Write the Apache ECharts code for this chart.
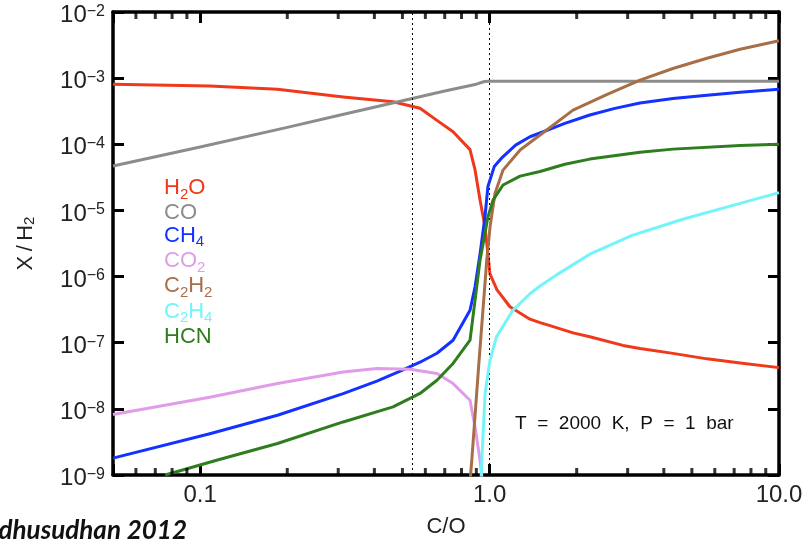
<!DOCTYPE html>
<html>
<head>
<meta charset="utf-8">
<script src="https://cdn.jsdelivr.net/npm/echarts@6/dist/echarts.min.js"></script>
<style>
html,body{margin:0;padding:0;background:#ffffff;}
#chart{width:805px;height:549px;}
</style>
</head>
<body>
<div id="chart"></div>
<script>
// ---- axis ranges and ticks ----
const X_MIN = 0.05, X_MAX = 10;
const Y_MIN = 1e-9, Y_MAX = 1e-2;
const xMinorTicks = [0.06, 0.07, 0.08, 0.09, 0.2, 0.3, 0.4, 0.5, 0.6, 0.7, 0.8, 0.9, 2, 3, 4, 5, 6, 7, 8, 9];
const xTickLabels = ['0.1', '1.0', '10.0'];
const refLinesX = [0.54, 1.0];

// ---- species (legend) ----
const speciesNames = ['H2O', 'CO', 'CH4', 'CO2', 'C2H2', 'C2H4', 'HCN'];
const speciesColors = ['#f0381a', '#8c8c8c', '#1432ff', '#e09ce8', '#a86e48', '#72f4fa', '#2e7d1e'];

// ---- series values: [C/O, X/H2] ----
const h2o = [[0.05, 8.1e-4], [0.108, 7.6e-4], [0.185, 6.8e-4], [0.312, 5.2e-4], [0.464, 4.4e-4], [0.575, 3.5e-4],
  [0.658, 2.3e-4], [0.748, 1.55e-4], [0.856, 8.3e-5], [0.891, 4.1e-5], [0.927, 1.44e-5], [0.964, 5.7e-6],
  [0.987, 2.2e-6], [1.003, 1.1e-6], [1.061, 6.3e-7], [1.176, 3.5e-7], [1.379, 2.27e-7], [1.494, 2.01e-7],
  [1.617, 1.81e-7], [1.943, 1.41e-7], [2.22, 1.23e-7], [2.89, 9.1e-8], [3.31, 8.2e-8], [4.3, 6.9e-8],
  [5.64, 5.7e-8], [7.34, 4.95e-8], [10, 4.2e-8]];
const co = [[0.05, 4.7e-5], [0.1, 9.1e-5], [0.2, 1.8e-4], [0.3, 2.73e-4], [0.5, 4.55e-4], [0.7, 6.4e-4],
  [0.9, 8.1e-4], [0.96, 8.9e-4], [1.0, 9.0e-4], [2, 9.0e-4], [5, 9.0e-4], [10, 9.0e-4]];
const ch4 = [[0.05, 1.8e-9], [0.108, 4.2e-9], [0.185, 8.0e-9], [0.312, 1.7e-8], [0.408, 2.62e-8], [0.491, 3.71e-8],
  [0.575, 5.07e-8], [0.658, 6.93e-8], [0.748, 1.09e-7], [0.856, 3.1e-7], [0.891, 7e-7], [0.927, 2.2e-6],
  [0.964, 8e-6], [0.987, 2.3e-5], [1.038, 4.6e-5], [1.109, 6.4e-5], [1.23, 9.7e-5], [1.379, 1.3e-4],
  [1.494, 1.48e-4], [1.82, 2.07e-4], [2.22, 2.77e-4], [2.71, 3.49e-4], [3.31, 4.2e-4], [4.3, 4.94e-4],
  [5.64, 5.5e-4], [7.34, 6.1e-4], [10, 6.8e-4]];
const co2 = [[0.05, 8.2e-9], [0.108, 1.5e-8], [0.185, 2.41e-8], [0.312, 3.61e-8], [0.408, 4.07e-8], [0.531, 3.98e-8],
  [0.658, 3.42e-8], [0.748, 2.41e-8], [0.856, 1.35e-8], [0.891, 5.3e-9], [0.927, 1.67e-9], [0.945, 8e-10]];
const c2h2 = [[0.858, 8.9e-10], [0.868, 1.67e-9], [0.92, 5.4e-8], [0.978, 1.77e-6], [1.004, 5.65e-6], [1.044, 1.8e-5],
  [1.113, 4.07e-5], [1.275, 8.2e-5], [1.494, 1.38e-4], [1.943, 3.29e-4], [2.55, 5.7e-4], [3.31, 9.35e-4],
  [4.3, 1.4e-3], [5.64, 2.0e-3], [7.34, 2.73e-3], [10, 3.68e-3]];
const c2h4 = [[0.932, 6e-10], [0.94, 1.67e-9], [0.965, 1.7e-8], [1.003, 5.4e-8], [1.057, 1.23e-7], [1.204, 3.1e-7],
  [1.379, 5.5e-7], [1.494, 7.2e-7], [1.71, 1.07e-6], [2.22, 2.18e-6], [3.11, 4.2e-6], [4.62, 7.3e-6],
  [7.34, 1.28e-5], [10, 1.86e-5]];
const hcn = [[0.0757, 1.0e-9], [0.114, 1.67e-9], [0.185, 2.99e-9], [0.312, 6.34e-9], [0.464, 1.07e-8], [0.575, 1.71e-8],
  [0.658, 2.71e-8], [0.748, 4.86e-8], [0.856, 1.09e-7], [0.891, 4.4e-7], [0.927, 1.77e-6], [0.964, 4.5e-6],
  [0.987, 8.0e-6], [1.028, 1.43e-5], [1.113, 2.42e-5], [1.275, 3.3e-5], [1.494, 3.87e-5], [1.82, 5.0e-5],
  [2.22, 5.97e-5], [3.31, 7.6e-5], [4.3, 8.45e-5], [7.34, 9.55e-5], [10, 1.0e-4]];
const speciesData = [h2o, co, ch4, co2, c2h2, c2h4, hcn];

const annotationText = 'T  =  2000  K,  P  =  1  bar';
const creditText = 'Madhusudhan 2012';

// ---- build ----
const FONT = 'Liberation Sans, Arial, sans-serif';
const chart = echarts.init(document.getElementById('chart'), null, {renderer: 'canvas'});

function isDecade(v) {
  const l = Math.log10(v);
  return Math.abs(l - Math.round(l)) < 1e-6;
}
function xLabel(v) {
  if (!isDecade(v)) return '';
  const e = Math.round(Math.log10(v));
  return xTickLabels[e + 1] || '';
}
function yLabel(v) {
  if (!isDecade(v)) return '';
  const e = Math.round(Math.log10(v));
  return '{b|10}{s|' + (e < 0 ? '\u2212' + (-e) : e) + '}';
}

const legendRich = {};
speciesNames.forEach((n, i) => {
  legendRich['n' + i] = {color: speciesColors[i], fontSize: 22, lineHeight: 28, fontFamily: FONT};
  legendRich['s' + i] = {color: speciesColors[i], fontSize: 15, lineHeight: 10, verticalAlign: 'bottom', fontFamily: FONT};
});
function legendFmt(name) {
  const i = speciesNames.indexOf(name);
  return name.match(/\d+|\D+/g).map(seg => (/\d/.test(seg) ? '{s' + i + '|' + seg + '}' : '{n' + i + '|' + seg + '}')).join('');
}

const axisLineStyle = {color: '#000', width: 3.5};
const majorTick = {show: true, inside: true, length: 11, lineStyle: {color: '#000', width: 3}};

const series = speciesNames.map((n, i) => ({
  name: n,
  type: 'line',
  data: speciesData[i],
  xAxisIndex: 0,
  yAxisIndex: 0,
  showSymbol: false,
  symbol: 'none',
  smooth: false,
  lineStyle: {color: speciesColors[i], width: 3, join: 'round'},
  itemStyle: {color: speciesColors[i]},
  z: 3 + i,
  silent: true,
  markLine: i === 1 ? {
    silent: true,
    symbol: ['none', 'none'],
    label: {show: false},
    lineStyle: {color: '#000', width: 1, type: [2, 3]},
    data: refLinesX.map(v => ({xAxis: v}))
  } : undefined
}));

// minor ticks on the bottom and top edges, positioned through the log x scale
[[Y_MIN, -3.5], [Y_MAX, 3.5]].forEach(([yv, off]) => {
  series.push({
    name: 'minor' + off,
    type: 'scatter',
    silent: true,
    z: 20,
    clip: false,
    xAxisIndex: 0,
    yAxisIndex: 0,
    symbol: 'rect',
    symbolSize: [3, 7],
    symbolOffset: [0, off],
    itemStyle: {color: '#000'},
    data: xMinorTicks.map(v => [v, yv])
  });
});

const option = {
  animation: false,
  backgroundColor: '#ffffff',
  grid: {left: 113, right: 26, top: 12, bottom: 74, containLabel: false, outerBoundsMode: 'none'},
  legend: {
    data: speciesNames,
    orient: 'vertical',
    left: 158,
    top: 177,
    padding: 0,
    itemGap: 0.3,
    itemWidth: 0,
    itemHeight: 0,
    selectedMode: false,
    formatter: legendFmt,
    textStyle: {fontFamily: FONT, fontSize: 22, rich: legendRich}
  },
  xAxis: [{
    type: 'log', logBase: 10, min: X_MIN, max: X_MAX, position: 'bottom',
    name: 'C/O', nameLocation: 'middle', nameGap: 41,
    nameTextStyle: {fontFamily: FONT, fontSize: 22, color: '#222'},
    axisLine: {show: true, lineStyle: axisLineStyle},
    axisTick: majorTick,
    axisLabel: {show: true, formatter: xLabel, fontFamily: FONT, fontSize: 24, color: '#222', margin: 8},
    splitLine: {show: false}
  }, {
    type: 'log', logBase: 10, min: X_MIN, max: X_MAX, position: 'top',
    axisLine: {show: true, lineStyle: axisLineStyle},
    axisTick: majorTick,
    axisLabel: {show: false},
    splitLine: {show: false}
  }],
  yAxis: [{
    type: 'log', logBase: 10, min: Y_MIN, max: Y_MAX, position: 'left',
    name: 'X\u2009/\u2009H{s|2}', nameLocation: 'middle', nameGap: 76, nameRotate: 90,
    nameTextStyle: {fontFamily: FONT, fontSize: 22, color: '#222',
      rich: {s: {fontFamily: FONT, fontSize: 15, lineHeight: 10, verticalAlign: 'bottom', color: '#222'}}},
    axisLine: {show: true, lineStyle: axisLineStyle},
    axisTick: majorTick,
    axisLabel: {
      show: true, formatter: yLabel, margin: 8, padding: [7, 0, 0, 0], color: '#222',
      rich: {
        b: {fontFamily: FONT, fontSize: 24, lineHeight: 24, color: '#222'},
        s: {fontFamily: FONT, fontSize: 16, lineHeight: 7, verticalAlign: 'top', color: '#222'}
      }
    },
    splitLine: {show: false}
  }, {
    type: 'log', logBase: 10, min: Y_MIN, max: Y_MAX, position: 'right',
    axisLine: {show: true, lineStyle: axisLineStyle},
    axisTick: majorTick,
    axisLabel: {show: false},
    splitLine: {show: false}
  }],
  graphic: [{
    type: 'text', left: 515, top: 414, silent: true,
    style: {text: annotationText, fontFamily: FONT, fontSize: 19, fill: '#111'}
  }, {
    type: 'text', x: 187, y: 531, silent: true,
    style: {text: creditText, fontFamily: 'Lato, Open Sans, sans-serif', fontStyle: 'italic', fontWeight: 'bold', fontSize: 26,
      fill: '#111', align: 'right', verticalAlign: 'middle'}
  }],
  series: series
};
chart.setOption(option);
</script>
</body>
</html>
